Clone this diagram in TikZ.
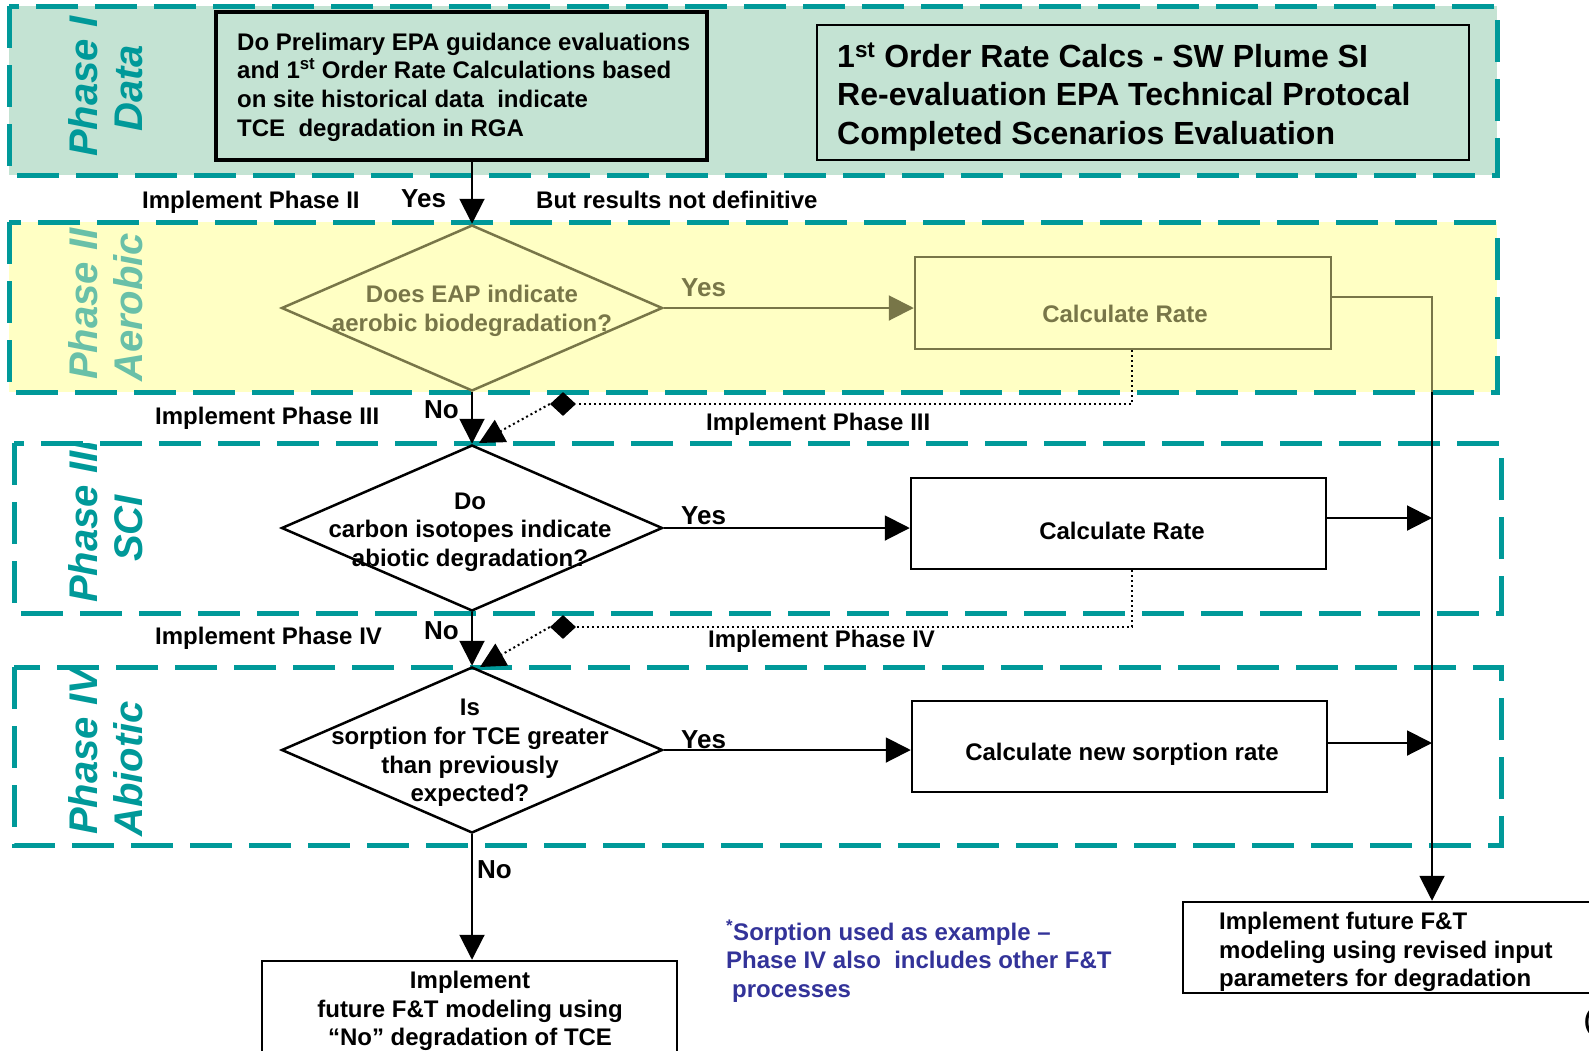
\documentclass[tikz,border=0pt]{standalone}
\usepackage{fontspec}
\setmainfont{Liberation Sans}
\usetikzlibrary{arrows.meta,shapes.geometric}
\definecolor{teal1}{RGB}{0,153,153}
\definecolor{pone}{RGB}{196,227,211}
\definecolor{ptwo}{RGB}{255,255,196}
\definecolor{olive1}{RGB}{120,118,72}
\definecolor{ptwolab}{RGB}{105,192,168}
\definecolor{footblue}{RGB}{51,51,153}
\begin{document}
\begin{tikzpicture}[x=1pt,y=-1pt,
  band/.style={draw=teal1,line width=5pt,dash pattern=on 42pt off 17pt},
  conn/.style={line width=2pt,-{Triangle[length=25pt,width=25pt]}},
  dotconn/.style={line width=2pt,dash pattern=on 2pt off 3pt},
  dotarr/.style={line width=2pt,dash pattern=on 2pt off 3pt,-{Triangle[length=25pt,width=25pt,sep=0pt]}},
  body/.style={font=\bfseries\fontsize{24}{28.7}\selectfont,inner sep=0pt},
  lab/.style={font=\bfseries\fontsize{24}{28.7}\selectfont,inner sep=0pt,anchor=base west},
  yn/.style={font=\bfseries\fontsize{26}{30}\selectfont,inner sep=0pt,anchor=base west},
  phlab/.style={font=\bfseries\itshape\fontsize{40}{45}\selectfont,text=teal1,rotate=90,anchor=base west,inner sep=0pt},
  procbox/.style={draw,line width=2.5pt,rectangle,inner sep=0pt},
  decbox/.style={draw,line width=2.5pt,shape=diamond,inner sep=0pt,minimum width=381pt,minimum height=166pt},
  marker/.style={shape=diamond,fill=black,inner sep=0pt,minimum width=26pt,minimum height=24pt}
]
\useasboundingbox[fill=white] (0,0) rectangle (1589,1050);

% ---- bands
\path[fill=pone] (9,6) rectangle (1497,175);
\path[fill=ptwo] (9,222) rectangle (1497,392);

% ---- phase labels (clipped to bands)
\begin{scope}
\clip (9,6) rectangle (1497,175);
\node[phlab] (l1a) at (97,157) {Phase I};
\node[phlab] (l1b) at (142,132) {Data};
\end{scope}
\begin{scope}
\clip (9,222) rectangle (1497,392);
\node[phlab,text=ptwolab] (l2a) at (97,380) {Phase II};
\node[phlab,text=ptwolab] (l2b) at (142,382) {Aerobic};
\end{scope}
\begin{scope}
\clip (14,443) rectangle (1501,613);
\node[phlab] (l3a) at (97,603) {Phase III};
\node[phlab] (l3b) at (142,562) {SCI};
\end{scope}
\begin{scope}
\clip (14,667) rectangle (1501,845);
\node[phlab] (l4a) at (97,835) {Phase IV};
\node[phlab] (l4b) at (142,837) {Abiotic};
\end{scope}

\draw[band] (9,6) rectangle (1497,175);
\draw[band] (9,222) rectangle (1497,392);
\draw[band] (14,443) rectangle (1501,613);
\draw[band] (14,667) rectangle (1501,845);

% ---- Phase I boxes
\node[procbox,line width=3.3pt,minimum width=491pt,minimum height=148pt] (p1box) at (461.5,86) {};
\node[body,align=left,anchor=west] (p1txt) at (237,87)
 {Do Prelimary EPA guidance evaluations\\and 1\textsuperscript{st} Order Rate Calculations based\\on site historical data\ \ indicate\\TCE\ \ degradation in RGA};
\node[procbox,line width=2pt,minimum width=652pt,minimum height=135pt] (toprt) at (1143,92.5) {};
\node[body,font=\bfseries\fontsize{32}{38.5}\selectfont,align=left,anchor=west] (toptxt) at (837,97)
 {1\textsuperscript{st} Order Rate Calcs - SW Plume SI\\Re-evaluation EPA Technical Protocal\\Completed Scenarios Evaluation};

% ---- diamonds
\node[decbox,draw=olive1] (d1) at (472,308) {};
\node[body,align=center,text=olive1] (d1t) at (472,311) {Does EAP indicate\\aerobic biodegradation?};
\node[decbox] (d2) at (472,528) {};
\node[body,align=center] (d2t) at (470,532) {Do\\carbon isotopes indicate\\abiotic degradation?};
\node[decbox] (d3) at (472,750) {};
\node[body,align=center] (d3t) at (470,753) {Is\\sorption for TCE greater\\than previously\\expected?};

% ---- process boxes
\node[procbox,draw=olive1,minimum width=416pt,minimum height=92pt] (cr1) at (1123,303) {};
\node[body,text=olive1] (cr1t) at (1125,314) {Calculate Rate};
\node[procbox,minimum width=415pt,minimum height=91pt] (cr2) at (1118.5,523.5) {};
\node[body] (cr2t) at (1122,531) {Calculate Rate};
\node[procbox,minimum width=415pt,minimum height=91pt] (cr3) at (1119.5,746.5) {};
\node[body] (cr3t) at (1122,754) {Calculate new sorption rate};
\node[procbox,minimum width=415pt,minimum height=98pt] (fin1) at (469.5,1010) {};
\node[body,align=center] (fin1t) at (470,1011) {Implement\\future F\&T modeling using\\``No'' degradation of TCE};
\node[procbox,minimum width=417pt,minimum height=91pt] (fin2) at (1391.5,947.5) {};
\node[body,align=left,anchor=west] (fin2t) at (1219,952) {Implement future F\&T\\modeling using revised input\\parameters for degradation};

% ---- markers and helper coordinates
\node[marker] (m1) at (563,404) {};
\node[marker] (m2) at (563,627) {};
\coordinate (t1) at (479,443);
\coordinate (t2) at (480,667);
\coordinate (vtop) at (1432,392);

% ---- connectors
\draw[conn] (p1box.south -| d1.north) -- (d1.north);
\draw[conn,draw=olive1,fill=olive1] (d1.east) -- (d1.east -| cr1.west);
\draw[line width=2pt,draw=olive1] ([yshift=6pt]cr1.east) -| (vtop);
\draw[conn] (vtop) -- (fin2.north -| vtop);
\draw[conn] (d1.south) -- (d2.north);
\draw[conn] (d2.south) -- (d3.north);
\draw[conn] (d3.south) -- (d3.south |- fin1.north);
\draw[conn] (d2.east) -- (d2.east -| cr2.west);
\draw[conn] (d3.east) -- (d3.east -| cr3.west);
\draw[conn] ([yshift=5.5pt]cr2.east) -- ([yshift=5.5pt]cr2.east -| vtop);
\draw[conn] ([yshift=3.5pt]cr3.east) -- ([yshift=3.5pt]cr3.east -| vtop);
\draw[dotconn] (cr1.south -| 1132,0) |- (m1.east);
\draw[dotconn] (cr2.south -| 1132,0) |- (m2.east);
\draw[dotarr] (m1.west) -- (t1);
\draw[dotarr] (m2.west) -- (t2);

% ---- labels
\node[lab] (a1) at (142,208) {Implement Phase II};
\node[yn] (y0) at (401,207) {Yes};
\node[lab] (a2) at (536,208) {But results not definitive};
\node[yn,text=olive1] (y1) at (681,296) {Yes};
\node[yn] (n1) at (424,418) {No};
\node[lab] (a3) at (155,424) {Implement Phase III};
\node[lab] (a4) at (706,430) {Implement Phase III};
\node[yn] (y2) at (681,524) {Yes};
\node[yn] (n2) at (424,639) {No};
\node[lab] (a5) at (155,644) {Implement Phase IV};
\node[lab] (a6) at (708,647) {Implement Phase IV};
\node[yn] (y3) at (681,748) {Yes};
\node[yn] (n3) at (477,878) {No};
\node[body,align=left,anchor=west,text=footblue] (foot) at (726,961)
 {\textsuperscript{*}Sorption used as example --\\Phase IV also\ \ includes other F\&T\\\hspace*{6pt}processes};
\node[lab] (paren) at (1584,1028) {(};
\end{tikzpicture}
\end{document}
